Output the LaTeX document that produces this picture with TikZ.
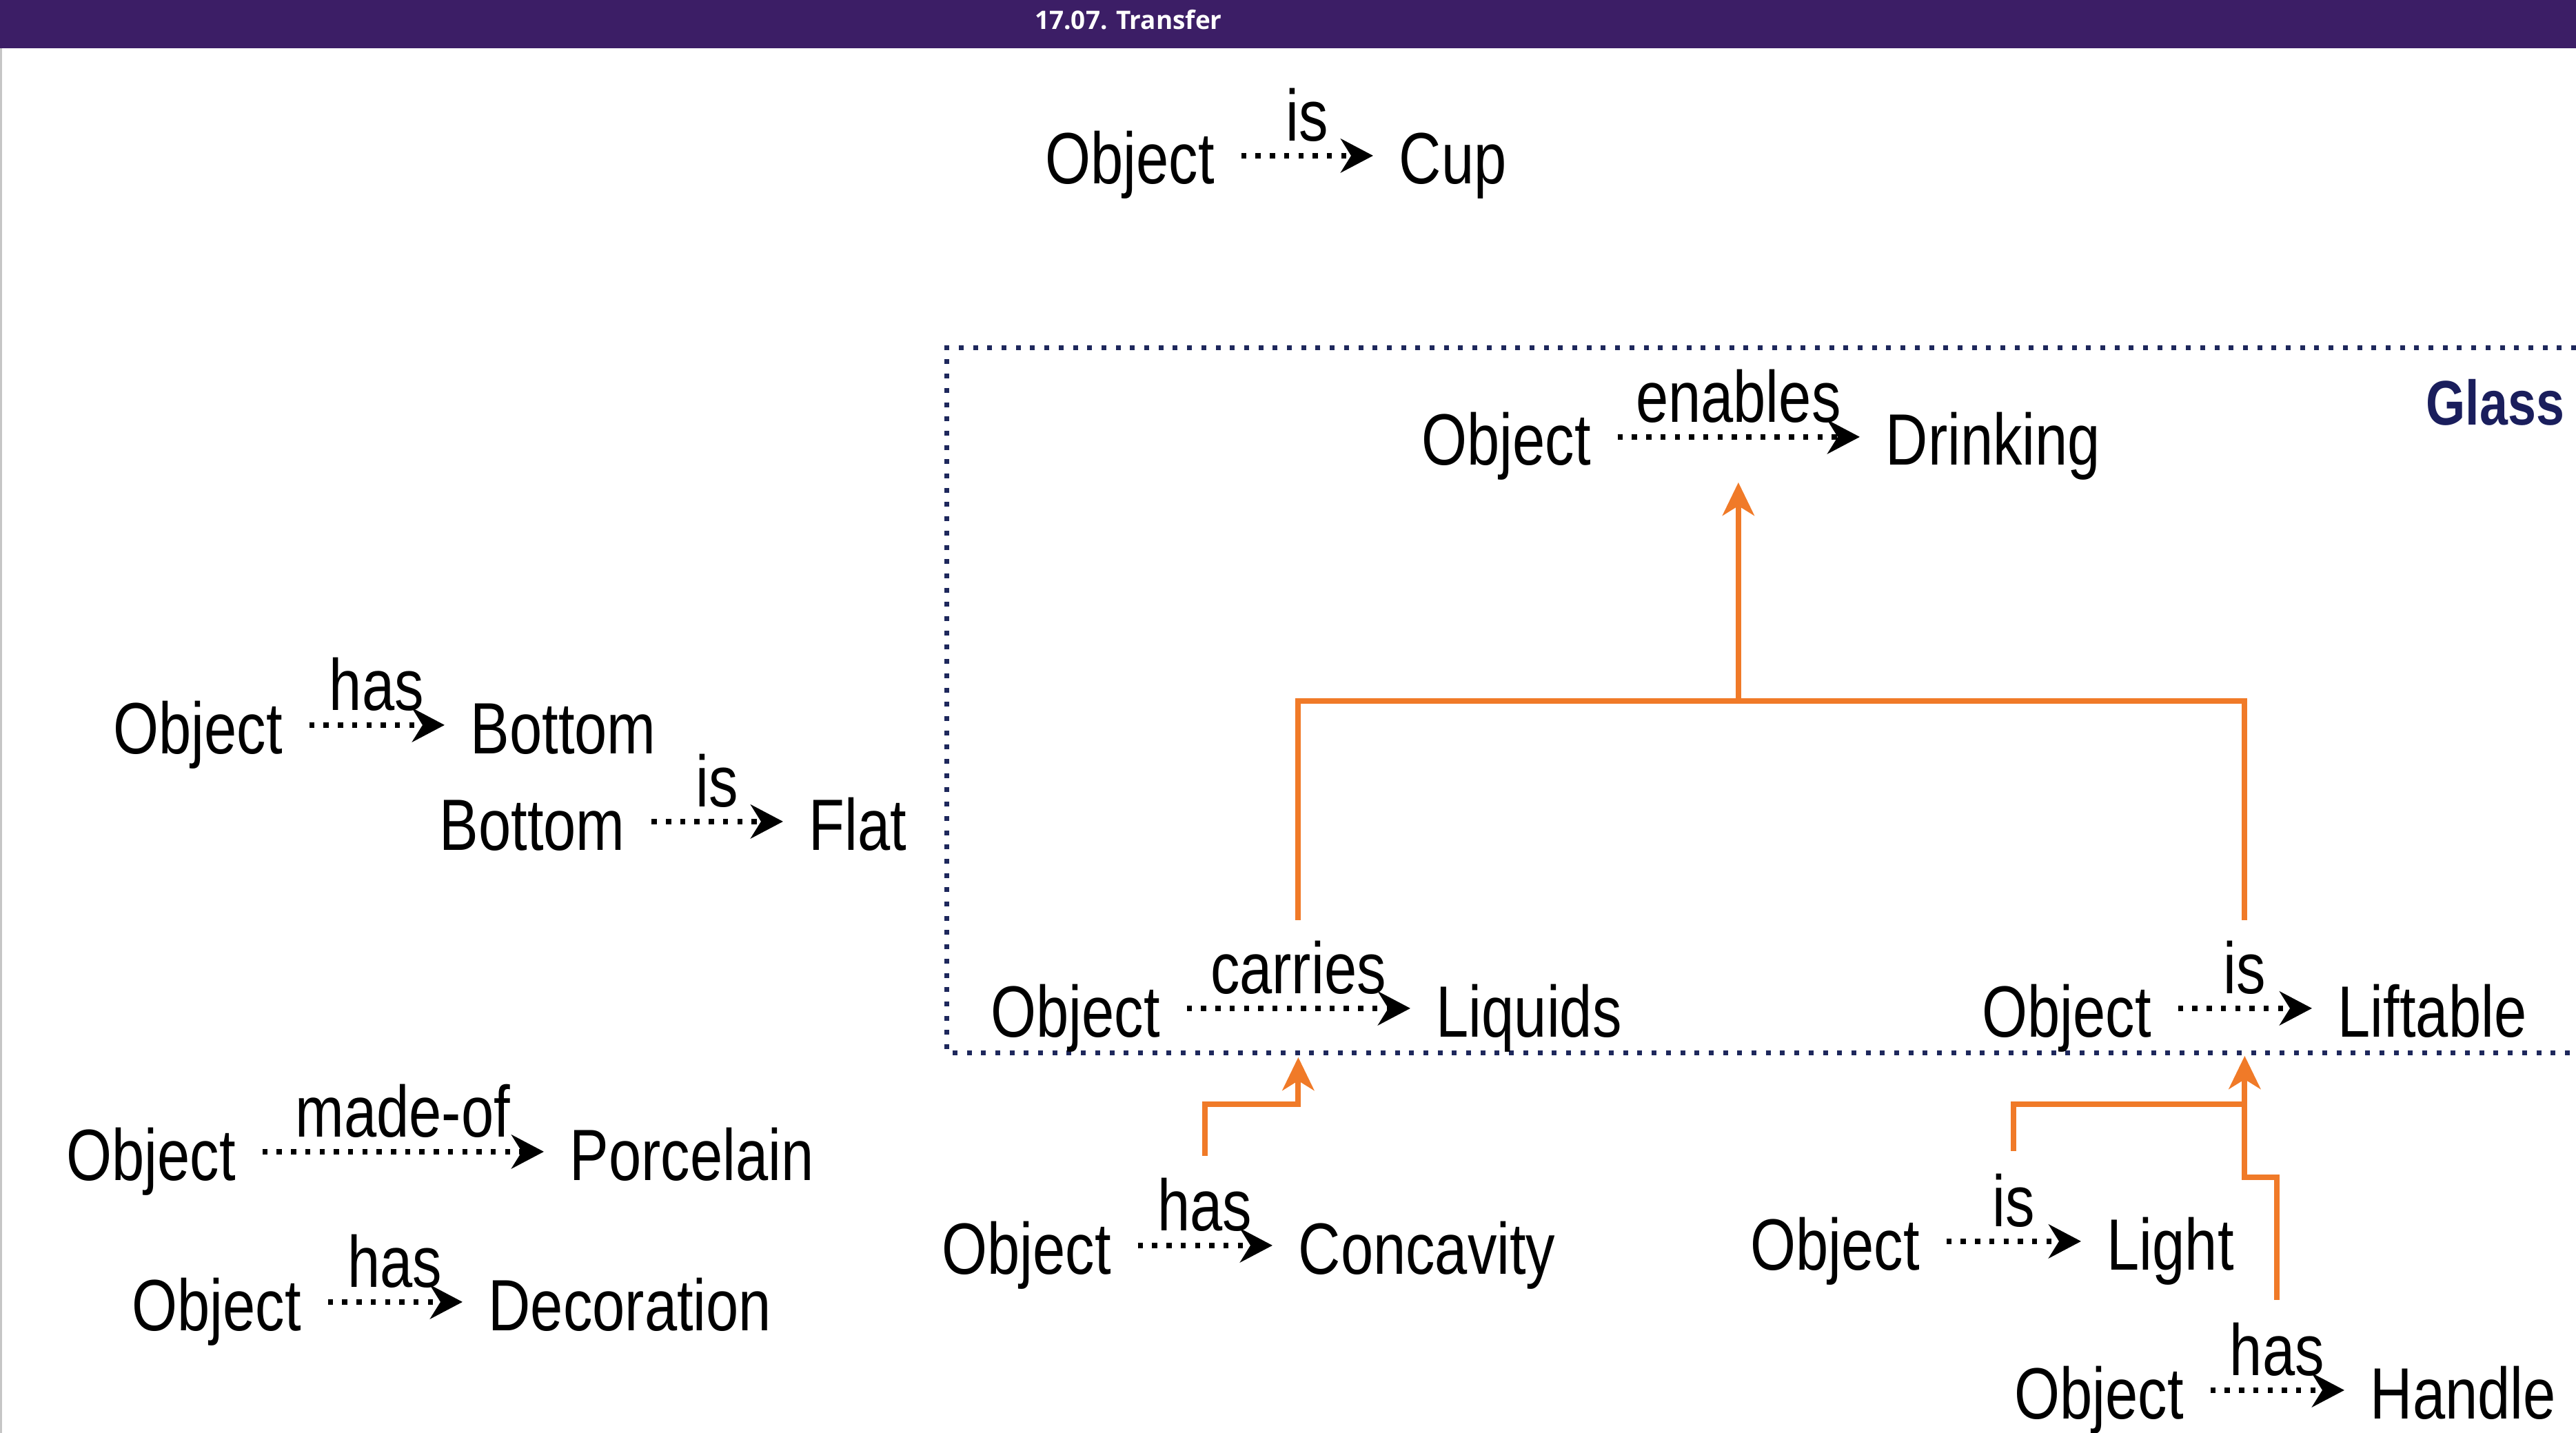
\documentclass[tikz,border=0pt]{standalone}
\usepackage{fontspec}
\setmainfont{Liberation Sans}[FakeStretch=0.805]
\newfontfamily\titlefont{Open Sans}
\usepackage{xcolor}
\usepackage{tikz}
\usetikzlibrary{arrows.meta}
\definecolor{headbar}{RGB}{60,30,102}
\definecolor{floworange}{RGB}{240,122,40}
\definecolor{framenavy}{RGB}{30,40,92}
\definecolor{glassnavy}{RGB}{26,30,92}

\begin{document}
\begin{tikzpicture}[word/.style={inner sep=0pt, anchor=base west, text height=28.5pt, text depth=5.1pt, font=\fontsize{30}{36}\selectfont}, lbl/.style={inner sep=0pt, anchor=base, yshift=0.21cm, font=\fontsize{30}{36}\selectfont}, rel/.style={line width=0.085cm, dash pattern=on 0.075cm off 0.132cm, shorten <=0.38cm, shorten >=0.37cm, -{Stealth[length=0.47cm, width=0.49cm, inset=0.15cm]}}, flow/.style={draw=floworange, line width=0.08cm}, flowtip/.style={flow, -{Stealth[length=0.48cm, width=0.46cm, inset=0.14cm]}}, frame/.style={draw=framenavy, line width=0.07cm, dash pattern=on 0.07cm off 0.137cm}]
		\useasboundingbox (0,0) rectangle (37.37,-20.79);
		\fill[headbar] (0,0) rectangle (37.37,-0.70);
		\draw[gray!45, line width=0.03cm] (0.015,-0.70) -- (0.015,-20.79);
		\node[text=white, font=\titlefont\bfseries\fontsize{10.5}{12}\selectfont] (title) at (16.37,-0.285) {17.07. Transfer};
		\draw[frame] (37.37,-5.05) -- (13.73,-5.05) -- (13.73,-15.27) -- (37.37,-15.27);
		\node[word, font=\bfseries\fontsize{26}{30}\selectfont, text=glassnavy] (glass) at (35.19,-6.17) {Glass};

		\node[word] (o1) at (15.16,-2.67) {Object};
		\node[word] (cup) at (20.29,-2.67) {Cup};
		\draw[rel] (o1.east) -- node[lbl] {is} (cup.west);

		\node[word] (o2) at (20.62,-6.75) {Object};
		\node[word] (drink) at (27.35,-6.75) {Drinking};
		\draw[rel] (o2.east) -- coordinate (mB) node[lbl] {enables} (drink.west);

		\node[word] (o3) at (14.37,-15.04) {Object};
		\node[word] (liq) at (20.83,-15.04) {Liquids};
		\draw[rel] (o3.east) -- coordinate (mC) node[lbl] {carries} (liq.west);

		\node[word] (o4) at (28.75,-15.04) {Object};
		\node[word] (lift) at (33.91,-15.04) {Liftable};
		\draw[rel] (o4.east) -- coordinate (mD) node[lbl] {is} (lift.west);

		\node[word] (o5) at (13.66,-18.48) {Object};
		\node[word] (conc) at (18.83,-18.48) {Concavity};
		\draw[rel] (o5.east) -- coordinate (mE) node[lbl] {has} (conc.west);

		\node[word] (o6) at (25.39,-18.42) {Object};
		\node[word] (light) at (30.56,-18.42) {Light};
		\draw[rel] (o6.east) -- coordinate (mF) node[lbl] {is} (light.west);

		\node[word] (o7) at (29.22,-20.58) {Object};
		\node[word] (handle) at (34.38,-20.58) {Handle};
		\draw[rel] (o7.east) -- coordinate (mG) node[lbl] {has} (handle.west);

		\node[word] (o8) at (1.64,-10.93) {Object};
		\node[word] (bot1) at (6.82,-10.93) {Bottom};
		\draw[rel] (o8.east) -- node[lbl] {has} (bot1.west);

		\node[word] (bot2) at (6.37,-12.33) {Bottom};
		\node[word] (flat) at (11.73,-12.33) {Flat};
		\draw[rel] (bot2.east) -- node[lbl] {is} (flat.west);

		\node[word] (o9) at (0.96,-17.12) {Object};
		\node[word] (porc) at (8.26,-17.12) {Porcelain};
		\draw[rel] (o9.east) -- node[lbl] {made-of} (porc.west);

		\node[word] (o10) at (1.91,-19.30) {Object};
		\node[word] (deco) at (7.08,-19.30) {Decoration};
		\draw[rel] (o10.east) -- node[lbl] {has} (deco.west);

		\draw[flow] ([yshift=1.28cm]mC) |- ([yshift=-3.83cm]mB) -| ([yshift=1.28cm]mD);
		\draw[flowtip] ([yshift=-3.83cm]mB) -- ([yshift=-0.66cm]mB);
		\draw[flowtip] ([yshift=1.30cm]mE) -- ([yshift=2.05cm]mE) -| ([yshift=-0.71cm]mC);
		\draw[flowtip] ([yshift=1.31cm]mG) -- ([yshift=3.09cm]mG) -| ([yshift=-0.69cm]mD);
		\draw[flow] ([yshift=1.31cm]mF) -- ([yshift=1.99cm]mF) -| ([yshift=-1.38cm]mD);
	\end{tikzpicture}
\end{document}
